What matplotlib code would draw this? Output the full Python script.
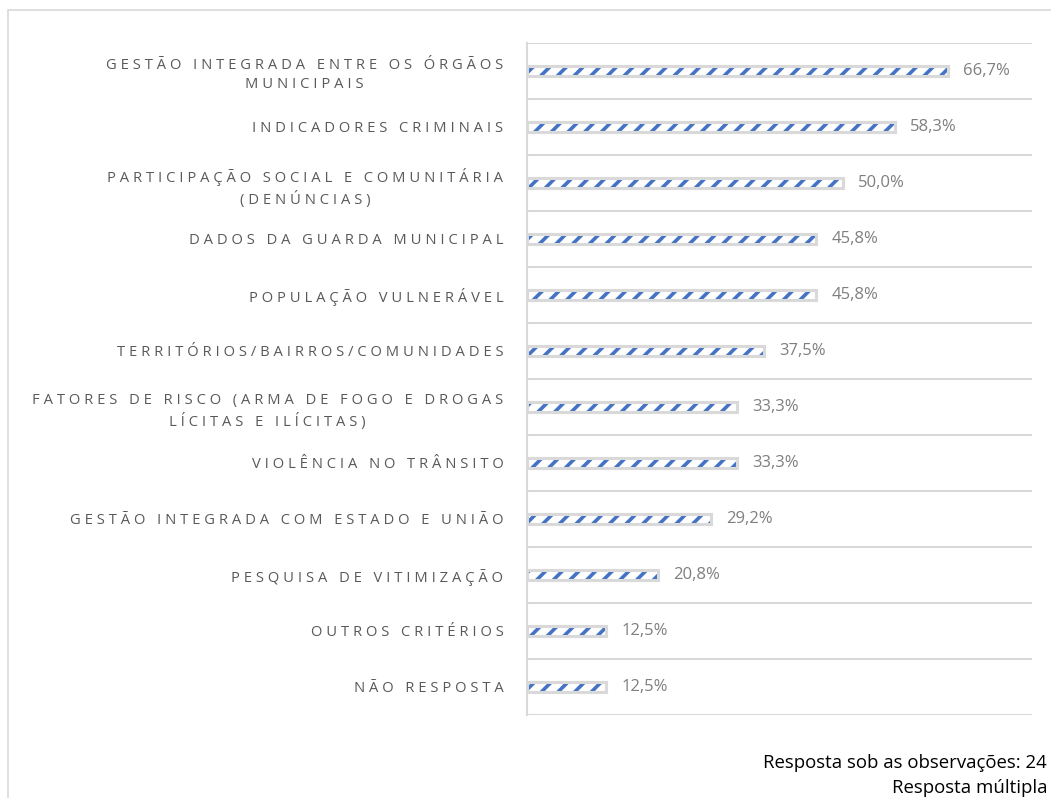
import matplotlib.pyplot as plt
from matplotlib.patches import Rectangle

categories = [
    "GESTÃO INTEGRADA ENTRE OS ÓRGÃOS\nMUNICIPAIS",
    "INDICADORES CRIMINAIS",
    "PARTICIPAÇÃO SOCIAL E COMUNITÁRIA\n(DENÚNCIAS)",
    "DADOS DA GUARDA MUNICIPAL",
    "POPULAÇÃO VULNERÁVEL",
    "TERRITÓRIOS/BAIRROS/COMUNIDADES",
    "FATORES DE RISCO (ARMA DE FOGO E DROGAS\nLÍCITAS E ILÍCITAS)",
    "VIOLÊNCIA NO TRÂNSITO",
    "GESTÃO INTEGRADA COM ESTADO E UNIÃO",
    "PESQUISA DE VITIMIZAÇÃO",
    "OUTROS CRITÉRIOS",
    "NÃO RESPOSTA",
]
values = [66.7, 58.3, 50.0, 45.8, 45.8, 37.5, 33.3, 33.3, 29.2, 20.8, 12.5, 12.5]
notes = ["Resposta sob as observações: 24", "Resposta múltipla"]

BLUE = "#4472C4"
GRID = "#d9d9d9"
LABEL = "#595959"


def spaced(s):
    # fake letter spacing: one space between letters
    return "\n".join(" ".join(line) for line in s.split("\n"))


plt.rcParams["font.family"] = ["Open Sans", "DejaVu Sans"]
plt.rcParams["hatch.linewidth"] = 2.6

fig = plt.figure(figsize=(10.51, 7.98), dpi=100)
ax = fig.add_axes([527 / 1051, 1 - 715 / 798, 505 / 1051, 672 / 798])

# outer chart border
fig.patches.append(Rectangle((8 / 1051, -0.1), 1.2, 1 - 10 / 798 + 0.1,
                             transform=fig.transFigure, fill=False,
                             edgecolor=GRID, linewidth=1.2))

y = list(range(len(categories)))
ax.barh(y, values, height=0.19, color="white", edgecolor=BLUE,
        hatch="//", linewidth=0, zorder=3)
ax.barh(y, values, height=0.19, color="none", edgecolor=GRID,
        linewidth=2.2, zorder=4)

for yi, v in zip(y, values):
    ax.text(v + 2.4, yi, f"{v:.1f}%".replace(".", ","), va="center",
            ha="left", fontsize=12, color="#7f7f7f")

ax.set_xlim(0, 80)
ax.set_ylim(len(categories) - 0.5, -0.5)
ax.set_xticks([])
ax.set_yticks(y)
ax.set_yticklabels([spaced(c) for c in categories], fontsize=10.6,
                   color=LABEL, linespacing=1.4)
for t in ax.get_yticklabels():
    t.set_multialignment("center")
ax.tick_params(axis="y", length=0, pad=17)

# row separators
for b in range(len(categories) + 1):
    ax.axhline(b - 0.5, color=GRID, linewidth=1.5, zorder=1)
for side in ["top", "right", "bottom"]:
    ax.spines[side].set_visible(False)
ax.spines["left"].set_color(GRID)
ax.spines["left"].set_linewidth(1.5)

fig.text(1047 / 1051, 1 - 763 / 798, notes[0], ha="right", va="center",
         fontsize=13.4, color="black")
fig.text(1047 / 1051, 1 - 788 / 798, notes[1], ha="right", va="center",
         fontsize=13.4, color="black")

fig.savefig("out.png", dpi=100)
